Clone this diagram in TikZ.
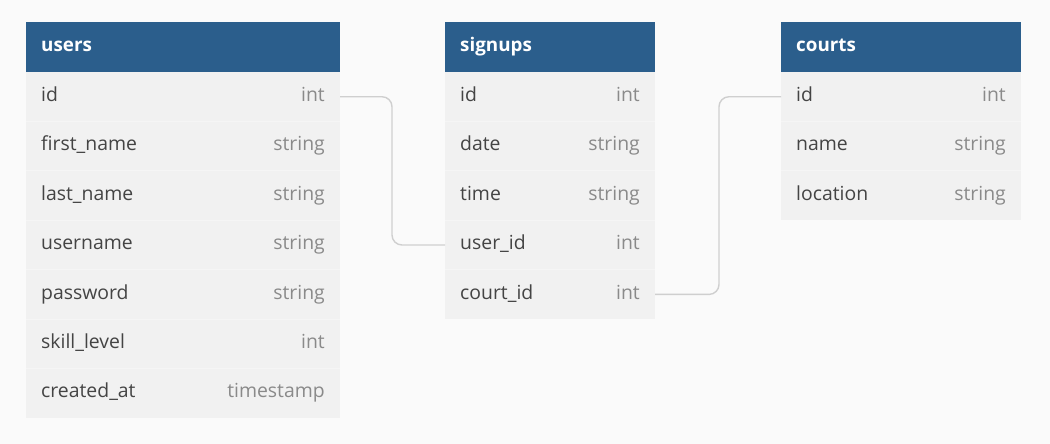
\documentclass[tikz,border=0pt]{standalone}
\usepackage{fontspec}
\setmainfont{Open Sans}
\definecolor{hdr}{HTML}{2B5E8C}
\definecolor{rowbg}{HTML}{F1F1F1}
\definecolor{rowsep}{HTML}{F5F5F5}
\definecolor{pagebg}{HTML}{FAFAFA}
\definecolor{fname}{HTML}{444444}
\definecolor{ftype}{HTML}{8A8A8A}
\definecolor{linkc}{HTML}{CFCFCF}
\tikzset{
  hdrbox/.style={fill=hdr, draw=none, anchor=north west, minimum height=50pt, inner sep=0pt, outer sep=0pt},
  rowbox/.style={fill=rowbg, draw=none, anchor=north west, minimum height=49.43pt, inner sep=0pt, outer sep=0pt},
  hdrtext/.style={anchor=mid west, inner sep=0pt, text=white, font=\fontsize{18.8}{22}\selectfont\bfseries},
  nametext/.style={anchor=mid west, inner sep=0pt, text=fname, font=\fontsize{19.4}{22}\selectfont},
  typetext/.style={anchor=mid east, inner sep=0pt, text=ftype, font=\fontsize{19.4}{22}\selectfont},
  sepline/.style={draw=rowsep, line width=1pt},
  linkline/.style={draw=linkc, line width=1.4pt, rounded corners=10pt}
}
\begin{document}
\begin{tikzpicture}[x=1pt,y=-1pt]
\fill[pagebg] (0,0) rectangle (1050,444);
\useasboundingbox (0,0) rectangle (1050,444);
% users
\node[hdrbox, minimum width=314pt] (users) at (26,22) {};
\node[hdrtext] (users-title) at ([xshift=15pt,yshift=-2pt]users.west) {users};
\foreach \n/\t [count=\i] in {id/int, first\_name/string, last\_name/string, username/string, password/string, skill\_level/int, created\_at/timestamp} {
  \node[rowbox, minimum width=314pt] (users-\i) at (26,{72+(\i-1)*49.43}) {};
  \node[nametext] (users-\i-n) at ([xshift=15pt,yshift=-2pt]users-\i.west) {\n};
  \node[typetext] (users-\i-t) at ([xshift=-15pt,yshift=-2pt]users-\i.east) {\t};
}
\foreach \i in {2,...,7} { \draw[sepline] (users-\i.north west) -- (users-\i.north east); }
% signups
\node[hdrbox, minimum width=210pt] (signups) at (445,22) {};
\node[hdrtext] (signups-title) at ([xshift=15pt,yshift=-2pt]signups.west) {signups};
\foreach \n/\t [count=\i] in {id/int, date/string, time/string, user\_id/int, court\_id/int} {
  \node[rowbox, minimum width=210pt] (signups-\i) at (445,{72+(\i-1)*49.43}) {};
  \node[nametext] (signups-\i-n) at ([xshift=15pt,yshift=-2pt]signups-\i.west) {\n};
  \node[typetext] (signups-\i-t) at ([xshift=-15pt,yshift=-2pt]signups-\i.east) {\t};
}
\foreach \i in {2,...,5} { \draw[sepline] (signups-\i.north west) -- (signups-\i.north east); }
% courts
\node[hdrbox, minimum width=240pt] (courts) at (781,22) {};
\node[hdrtext] (courts-title) at ([xshift=15pt,yshift=-2pt]courts.west) {courts};
\foreach \n/\t [count=\i] in {id/int, name/string, location/string} {
  \node[rowbox, minimum width=240pt] (courts-\i) at (781,{72+(\i-1)*49.43}) {};
  \node[nametext] (courts-\i-n) at ([xshift=15pt,yshift=-2pt]courts-\i.west) {\n};
  \node[typetext] (courts-\i-t) at ([xshift=-15pt,yshift=-2pt]courts-\i.east) {\t};
}
\foreach \i in {2,...,3} { \draw[sepline] (courts-\i.north west) -- (courts-\i.north east); }
% connectors
\draw[linkline] (users-1.east) -- ++(52,0) |- (signups-4.west);
\draw[linkline] (signups-5.east) -- ++(64,0) |- (courts-1.west);
\end{tikzpicture}
\end{document}
